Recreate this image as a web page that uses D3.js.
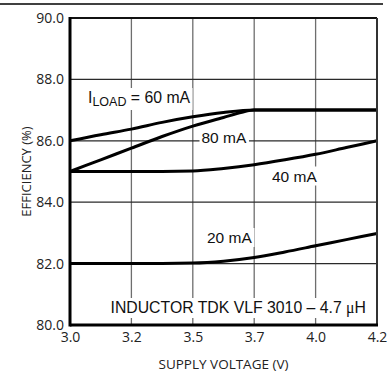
<!DOCTYPE html>
<html>
<head>
<meta charset="utf-8">
<script src="https://cdn.jsdelivr.net/npm/d3@7"></script>
<style>
  body { margin: 0; background: #fff; }
  svg { display: block; }
</style>
</head>
<body>
<div id="chart"></div>
<script>
// supply voltage tick labels (equally spaced on the axis)
const voltageLabels = ["3.0", "3.2", "3.5", "3.7", "4.0", "4.2"];
const efficiencyTicks = [80, 82, 84, 86, 88, 90];

// curves: position along the voltage axis (tick index) and efficiency (%)
const load60 = [[0, 86.0], [0.5, 86.2], [1, 86.38], [1.5, 86.6], [2, 86.78], [2.5, 86.92], [3, 87.0], [4, 87.0], [5, 87.0]];
const load80 = [[0, 85.0], [0.5, 85.38], [1, 85.76], [1.5, 86.14], [2, 86.48], [2.5, 86.76], [2.8, 86.93], [3, 87.0], [4, 87.0], [5, 87.0]];
const load40 = [[0, 85.0], [1, 85.0], [2, 85.02], [2.5, 85.1], [3, 85.22], [3.5, 85.38], [4, 85.56], [4.5, 85.78], [5, 86.0]];
const load20 = [[0, 82.0], [1, 82.0], [2, 82.02], [2.5, 82.08], [3, 82.2], [3.5, 82.38], [4, 82.58], [4.5, 82.78], [5, 82.98]];

const width = 388, height = 372;
const margin = {top: 18, right: 11, bottom: 47, left: 70};

const svg = d3.select("#chart").append("svg")
  .attr("width", width)
  .attr("height", height);

svg.append("rect").attr("width", width).attr("height", height).attr("fill", "#fff");

// rule across the top of the figure
svg.append("line")
  .attr("x1", 0).attr("x2", 383)
  .attr("y1", 4).attr("y2", 4)
  .attr("stroke", "#000").attr("stroke-width", 1.5);

const x = d3.scaleLinear()
  .domain([0, voltageLabels.length - 1])
  .range([margin.left, width - margin.right]);
const y = d3.scaleLinear()
  .domain([80, 90])
  .range([height - margin.bottom, margin.top]);

// grid
svg.append("g")
  .selectAll("line")
  .data(d3.range(1, voltageLabels.length - 1))
  .join("line")
  .attr("x1", d => x(d)).attr("x2", d => x(d))
  .attr("y1", y(80)).attr("y2", y(90))
  .attr("stroke", "#6e6e6e").attr("stroke-width", 1.3);
svg.append("g")
  .selectAll("line")
  .data(efficiencyTicks.slice(1, -1))
  .join("line")
  .attr("x1", x(0)).attr("x2", x(5))
  .attr("y1", d => y(d)).attr("y2", d => y(d))
  .attr("stroke", "#2a2a2a").attr("stroke-width", 1.2);

// labels with white boxes that break the grid
const labelFont = "'Liberation Sans', Arial, sans-serif";
function boxedLabel(px, py, build, size) {
  const g = svg.append("g");
  const t = g.append("text")
    .attr("x", px).attr("y", py)
    .attr("font-family", labelFont)
    .attr("font-size", size)
    .attr("fill", "#111");
  build(t);
  const b = t.node().getBBox();
  g.insert("rect", "text")
    .attr("x", b.x - 2).attr("y", b.y - 1)
    .attr("width", b.width + 4).attr("height", b.height + 2)
    .attr("fill", "#fff");
}

boxedLabel(88, 103, t => {
  t.append("tspan").text("I");
  t.append("tspan").attr("font-size", 12.5).attr("dy", 3).text("LOAD");
  t.append("tspan").attr("dy", -3).text(" = 60 mA");
}, 15.8);
boxedLabel(201.5, 143, t => t.text("80 mA"), 15.5);
boxedLabel(272, 181.5, t => t.text("40 mA"), 15.5);
boxedLabel(207, 243, t => t.text("20 mA"), 15.5);
boxedLabel(110.5, 313, t => {
  t.append("tspan").text("INDUCTOR TDK VLF 3010 \u2013 4.7 ");
  t.append("tspan").attr("font-family", "'Liberation Serif', serif").text("\u03bc");
  t.append("tspan").text("H");
}, 15.8);

// curves
const line = d3.line()
  .x(d => x(d[0]))
  .y(d => y(d[1]))
  .curve(d3.curveMonotoneX);

svg.append("g")
  .selectAll("path")
  .data([load20, load40, load80, load60])
  .join("path")
  .attr("d", line)
  .attr("fill", "none")
  .attr("stroke", "#000")
  .attr("stroke-width", 3)
  .attr("stroke-linecap", "butt");

// frame
svg.append("line").attr("x1", x(0)).attr("x2", x(5)).attr("y1", y(90)).attr("y2", y(90))
  .attr("stroke", "#111").attr("stroke-width", 2);
svg.append("line").attr("x1", x(5)).attr("x2", x(5)).attr("y1", y(90)).attr("y2", y(80))
  .attr("stroke", "#333").attr("stroke-width", 2);
svg.append("line").attr("x1", x(0)).attr("x2", x(0)).attr("y1", y(90) - 1).attr("y2", y(80) + 1.5)
  .attr("stroke", "#000").attr("stroke-width", 3);
svg.append("line").attr("x1", x(0)).attr("x2", x(5) + 1).attr("y1", y(80)).attr("y2", y(80))
  .attr("stroke", "#000").attr("stroke-width", 3);

// axes
const tickFont = "'Open Sans', sans-serif";
const yAxis = svg.append("g")
  .attr("transform", `translate(${x(0) - 6},0)`)
  .call(d3.axisLeft(y).tickValues(efficiencyTicks).tickFormat(d3.format(".1f")).tickSize(0).tickPadding(0));
const xAxis = svg.append("g")
  .attr("transform", `translate(0,${y(80) + 7})`)
  .call(d3.axisBottom(x).tickValues(d3.range(voltageLabels.length)).tickFormat(i => voltageLabels[i]).tickSize(0).tickPadding(0));
[yAxis, xAxis].forEach(a => {
  a.select(".domain").remove();
  a.selectAll("text").attr("font-family", tickFont).attr("font-size", 14).attr("fill", "#222");
});

svg.append("text")
  .attr("x", x(2.5)).attr("y", 369)
  .attr("text-anchor", "middle")
  .attr("font-family", tickFont).attr("font-size", 13.5).attr("fill", "#222")
  .text("SUPPLY VOLTAGE (V)");
svg.append("text")
  .attr("transform", `translate(31,${y(85)}) rotate(-90)`)
  .attr("text-anchor", "middle")
  .attr("font-family", tickFont).attr("font-size", 13).attr("fill", "#222")
  .text("EFFICIENCY (%)");
</script>
</body>
</html>
